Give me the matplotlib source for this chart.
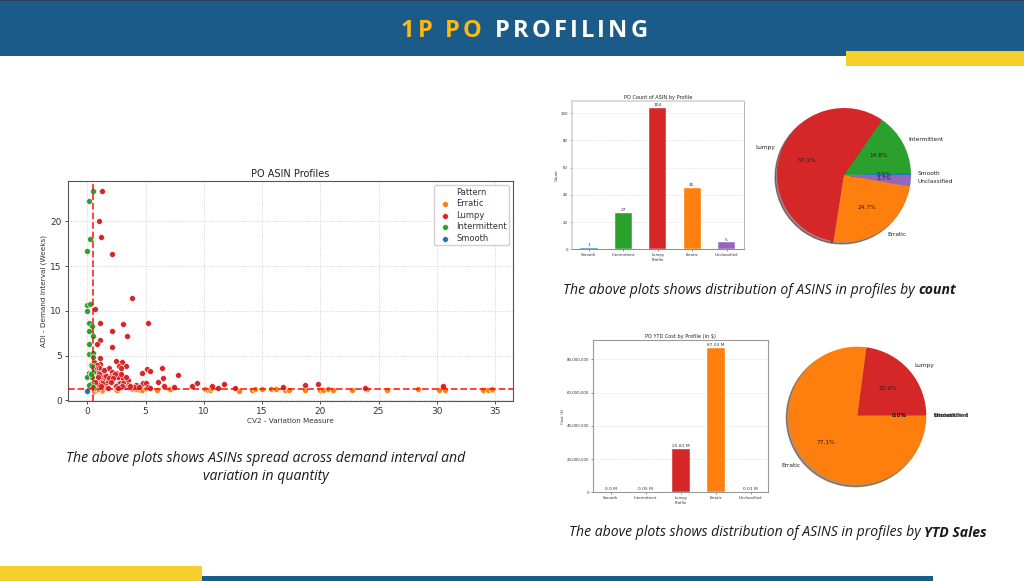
import matplotlib
matplotlib.use("Agg")
import matplotlib.pyplot as plt
from matplotlib.patches import Rectangle
from matplotlib.ticker import FuncFormatter

W, H = 1024, 581

# scatter data
erratic_x = [0.55, 0.8, 1.0, 1.25, 1.3, 2.5, 2.55, 3.8, 4.2, 4.5, 4.7, 5.0, 6.0, 7.0, 7.1, 10.1, 10.4, 10.5, 10.6,
             13.0, 14.1, 14.4, 15.0, 15.8, 16.1, 16.2, 16.9, 17.0, 17.3, 18.7, 20.0, 20.2, 20.7, 21.1, 22.7, 24.0,
             25.7, 28.4, 30.2, 30.7, 34.0, 34.4, 34.7, 34.7, 0.9]
erratic_y = [1.0, 1.15, 1.25, 1.0, 1.2, 1.2, 1.2, 1.25, 1.25, 1.2, 1.2, 1.35, 1.2, 1.3, 1.3, 1.25, 1.15, 1.2, 1.35,
             1.1, 1.2, 1.3, 1.3, 1.3, 1.3, 1.3, 1.3, 1.15, 1.2, 1.2, 1.2, 1.15, 1.25, 1.15, 1.15, 1.3,
             1.15, 1.3, 1.15, 1.15, 1.15, 1.2, 1.15, 1.3, 1.3]
lumpy_x = [1.3, 1.0, 1.2, 2.1, 3.8, 0.65, 1.1, 3.1, 5.2, 2.1, 3.4, 1.1, 0.8, 2.1, 1.1, 2.5, 3.0, 0.55, 1.1, 0.8,
           1.0, 0.7, 0.5, 1.9, 2.7, 3.3, 2.9, 5.1, 5.35, 6.4, 4.7, 2.5, 2.1, 1.2, 0.8, 1.5, 2.6, 2.0, 1.3, 1.2,
           1.5, 1.8, 3.1, 3.5, 1.2, 1.7, 0.8, 2.3, 2.6, 2.8, 3.1, 3.5, 4.2, 4.6, 4.8, 5.0, 6.1, 6.5, 7.8, 6.6,
           7.4, 5.2, 2.8, 3.2, 3.6, 3.9, 1.5, 1.6, 0.6, 1.1, 9.0, 9.4, 10.7, 11.2, 11.7, 12.7, 16.8, 18.7, 19.8, 30.5,
           23.8, 1.4, 1.0, 1.6, 1.9, 2.4, 2.2, 1.3, 1.0, 0.9, 1.7, 2.5, 3.0, 3.3, 4.0, 4.4, 5.4, 0.7, 1.2, 2.0,
           2.9, 3.7, 1.8, 2.6]
lumpy_y = [23.4, 20.0, 18.2, 16.4, 11.4, 10.2, 8.6, 8.5, 8.6, 7.8, 7.2, 6.75, 6.3, 6.0, 4.7, 4.4, 4.3, 4.3, 4.1, 4.0,
           3.6, 3.6, 3.6, 3.6, 3.8, 3.8, 3.6, 3.5, 3.3, 3.6, 3.1, 3.1, 3.2, 3.1, 3.1, 2.85, 2.6, 2.7, 2.6, 2.3,
           2.3, 2.2, 2.4, 2.3, 2.0, 1.9, 1.8, 2.8, 1.8, 1.9, 1.9, 1.7, 1.7, 1.7, 1.9, 1.9, 2.0, 2.5, 2.8, 1.55,
           1.5, 1.5, 1.5, 1.5, 1.5, 1.4, 1.5, 1.6, 1.4, 1.45, 1.55, 1.9, 1.6, 1.4, 1.8, 1.4, 1.5, 1.75, 1.8, 1.55,
           1.35, 3.4, 2.9, 2.7, 2.5, 2.9, 2.5, 1.9, 1.7, 2.6, 1.4, 1.6, 1.6, 2.6, 1.5, 1.5, 1.4, 2.0, 1.6, 2.0,
           2.9, 1.6, 1.4, 1.4]
intermittent_x = [0.45, 0.12, 0.22, 0.0, 0.0, 0.22, 0.0, 0.12, 0.4, 0.12, 0.45, 0.15, 0.18, 0.5, 0.45, 0.3, 0.4,
                  0.1, 0.3, 0.0, 0.4, 0.2, 0.35, 0.15, 0.45, 0.45, 0.3]
intermittent_y = [23.4, 22.3, 18.0, 16.7, 10.7, 10.8, 10.0, 8.6, 8.3, 7.7, 7.2, 6.3, 5.2, 5.3, 4.8, 3.9, 3.8,
                  3.0, 3.1, 2.6, 2.6, 1.8, 1.8, 1.7, 3.2, 1.5, 2.9]
smooth_x = [0.0]
smooth_y = [1.0]

scatter_names = ["Erratic", "Lumpy", "Intermittent", "Smooth"]

profiles = ["Smooth", "Intermittent", "Lumpy", "Erratic", "Unclassified"]
count_vals = [1, 27, 104, 45, 5]
cost_vals = [0.0, 0.05, 25.81, 87.03, 0.01]  # millions
count_ticks = [0, 20, 40, 60, 80, 100]
cost_ticks = [0, 20, 40, 60, 80]

colors = {"Smooth": "#1f77b4", "Intermittent": "#2ca02c", "Lumpy": "#d62728",
          "Erratic": "#ff7f0e", "Unclassified": "#9467bd"}
profile_colors = [colors[p] for p in profiles]

plt.rcParams["font.family"] = "DejaVu Sans"
fig = plt.figure(figsize=(W / 100, H / 100), dpi=100)


def px_axes(left, top, right, bottom, **kw):
    return fig.add_axes([left / W, 1 - bottom / H, (right - left) / W, (bottom - top) / H], **kw)


# full page layer for the slide decoration and captions
page = px_axes(0, 0, W, H)
page.set_xlim(0, W)
page.set_ylim(H, 0)
page.axis("off")
page.add_patch(Rectangle((0, 0), W, 56, color="#1a5b8a", lw=0))
page.add_patch(Rectangle((0, 0), W, 1, color="#2a3f55", lw=0))
page.add_patch(Rectangle((846, 51), 178, 15, color="#f4ce2b", lw=0))
page.add_patch(Rectangle((202, 576), 731, 5, color="#1a5b8a", lw=0))
page.add_patch(Rectangle((0, 566), 202, 15, color="#f4ce2b", lw=0))

renderer = fig.canvas.get_renderer()


def spaced_title(x, y, word, color, gap):
    for ch in word:
        t = page.text(x, y, ch, color=color, fontsize=17, fontweight="bold", family="Open Sans",
                      ha="left", va="center")
        if ch == " ":
            x += 6 + gap
        else:
            x += t.get_window_extent(renderer).width + gap
    return x


spaced_title(401, 31, "1P PO", "#fdb913", 3.1)
spaced_title(495, 31, "PROFILING", "white", 3.1)


def caption_runs(x, y, runs):
    for txt, weight in runs:
        t = page.text(x, y, txt, fontsize=10.1, style="italic", fontweight=weight, family="Open Sans",
                      color="#1a1a1a", ha="left", va="center")
        x += t.get_window_extent(renderer).width


page.text(266, 458, "The above plots shows ASINs spread across demand interval and", fontsize=10.1,
          style="italic", family="Open Sans", color="#1a1a1a", ha="center", va="center")
page.text(266, 477, "variation in quantity", fontsize=10.1, style="italic", family="Open Sans",
          color="#1a1a1a", ha="center", va="center")
caption_runs(563, 290, [("The above plots shows distribution of ASINS in profiles by\u00a0", "normal"), ("count", "bold")])
caption_runs(569, 533, [("The above plots shows distribution of ASINS in profiles by\u00a0", "normal"), ("YTD Sales", "bold")])

# scatter of ADI against CV2
ax = px_axes(68, 181, 512.5, 400.8)
series = [(erratic_x, erratic_y), (lumpy_x, lumpy_y), (intermittent_x, intermittent_y), (smooth_x, smooth_y)]
for name, (xs, ys) in zip(scatter_names, series):
    ax.scatter(xs, ys, s=18, color=colors[name], edgecolor="white", linewidth=0.4, label=name, zorder=3)
ax.axvline(0.5, color="red", linestyle="--", linewidth=1.3, alpha=0.8, zorder=4)
ax.axhline(1.32, color="red", linestyle="--", linewidth=1.3, alpha=0.8, zorder=4)
ax.set_xlim(-1.66, 36.5)
ax.set_ylim(-0.05, 24.5)
ax.set_xticks(range(0, 40, 5))
ax.set_yticks(range(0, 25, 5))
ax.grid(True, linestyle=":", linewidth=0.6, color="#c8c8c8")
ax.tick_params(labelsize=6.5, length=2.5, width=0.6, pad=2, colors="#333333")
ax.set_title("PO ASIN Profiles", fontsize=7, pad=3, color="#222222")
ax.set_xlabel("CV2 - Variation Measure", fontsize=5.2, labelpad=1.5, color="#333333")
ax.set_ylabel("ADI - Demand Interval (Weeks)", fontsize=5.2, labelpad=2, color="#333333")
for s in ax.spines.values():
    s.set_color("#555555")
    s.set_linewidth(0.8)
leg = ax.legend(title="Pattern", loc="upper right", fontsize=6, title_fontsize=6, framealpha=0.9,
                bbox_to_anchor=(0.9925, 0.98), borderaxespad=0, labelspacing=0.3, handletextpad=0.3,
                borderpad=0.3)
for t in leg.get_texts():
    t.set_color("#333333")
leg.get_title().set_color("#333333")


def bar_panel(rect, values, labels, ticks, title, ylabel, ymax, tick_fmt):
    a = px_axes(*rect)
    bars = a.bar(profiles, values, width=0.5, color=profile_colors, edgecolor="white", linewidth=0.3, zorder=3)
    for b, lab in zip(bars, labels):
        a.text(b.get_x() + b.get_width() / 2, b.get_height() + ymax * 0.006, lab, ha="center", va="bottom",
               fontsize=3.2, color="#333333")
    a.set_xlim(-0.5, 4.5)
    a.set_ylim(0, ymax)
    a.set_yticks(ticks)
    a.yaxis.set_major_formatter(FuncFormatter(tick_fmt))
    a.grid(True, axis="y", linestyle="--", linewidth=0.4, color="#dddddd")
    a.tick_params(labelsize=2.8, length=1.5, width=0.4, pad=1.2, colors="#333333")
    a.set_title(title, fontsize=3.6, pad=1.5, color="#222222")
    a.set_xlabel("Profile", fontsize=2.8, labelpad=1, color="#333333")
    a.set_ylabel(ylabel, fontsize=2.8, labelpad=1.5, color="#333333")
    return a


ax1 = bar_panel((571.7, 100.7, 743.7, 249.3), count_vals, [str(v) for v in count_vals], count_ticks,
                "PO Count of ASIN by Profile", "Count", 109.2, lambda v, p: f"{v:.0f}")
ax1.spines["left"].set(color="#d4d4d4", linewidth=1.2)
ax1.spines["top"].set(color="#d4d4d4", linewidth=1.2)
ax1.spines["right"].set(color="#aaaaaa", linewidth=0.6)
ax1.spines["bottom"].set(color="#777777", linewidth=0.6)

ax2 = bar_panel((593.3, 340, 768.3, 492.3), cost_vals, [f"{v} M" for v in cost_vals], cost_ticks,
                "PO YTD Cost by Profile (in $)", "Cost ($)", 91.6, lambda v, p: f"{v * 1e6:,.0f}")
for s in ax2.spines.values():
    s.set(color="#999999", linewidth=0.8)


def pie_panel(cx, cy, r, values):
    side = 1.25 * r
    a = px_axes(cx - side, cy - side, cx + side, cy + side)
    a.pie(values, labels=profiles, colors=profile_colors, autopct="%1.1f%%", shadow=True,
          textprops={"fontsize": 4.2, "color": "#222222"})
    a.set_xlim(-1.25, 1.25)
    a.set_ylim(-1.25, 1.25)
    return a


pie_panel(844, 175, 67, count_vals)
pie_panel(857.3, 415.7, 69, cost_vals)

fig.savefig("out.png", dpi=100)
